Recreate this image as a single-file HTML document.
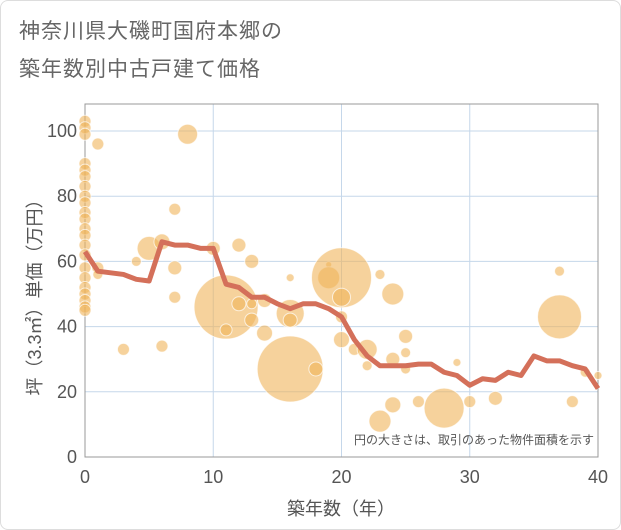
<!DOCTYPE html>
<html><head><meta charset="utf-8"><style>
body{margin:0;background:#fff;font-family:"Liberation Sans","Noto Sans CJK JP",sans-serif}
.wrap{position:relative;width:619px;height:528px;border:1px solid #ddd;border-radius:8px;overflow:hidden;background:#fff}
.t{position:absolute;left:18px;font-size:21px;color:#666;letter-spacing:1px}
</style></head><body>
<div class="wrap">
<div class="t" style="top:14px">神奈川県大磯町国府本郷の</div>
<div class="t" style="top:52px">築年数別中古戸建て価格</div>
<svg id="c" width="621" height="530" style="position:absolute;left:0;top:0"></svg>
</div>
<script>
const xTicks=[0,10,20,30,40];
const yTicks=[0,20,40,60,80,100];
const lineYears=[0,1,2,3,4,5,6,7,8,9,10,11,12,13,14,15,16,17,18,19,20,21,22,23,24,25,26,27,28,29,30,31,32,33,34,35,36,37,38,39,40];
const lineValues=[63,57,56.5,56,54.5,54,66,65,65,64,64,53,52,49,49,47,45.5,47,47,45.5,43,36,31,28,28,28,28.5,28.5,26,25,22,24,23.5,26,25,31,29.5,29.5,28,27,21];
const bubbleX=[0,0,0,0,0,0,0,0,0,0,0,0,0,0,0,0,0,0,0,0,0,0,1,1,1,3,4,5,6,7,7,7,6,8,10,12,13,11,12,13,13,14,14,11,16,16,16,16,18,19,19,20,20,20,20,21,22,22,23,24,24,24,23,25,25,25,26,28,29,30,32,37,37,38,39,40];
const bubbleY=[103,101,99,90,88,86,83,80,78,75,73,70,68,65,62,58,55,52,50,48,46,45,96,58,56,33,60,64,66,76,58,49,34,99,64,65,60,46,47,47,42,48,38,39,44,55,42,27,27,59,55,55,49,43,36,33,33,28,56,50,30,16,11,37,32,27,17,15,29,17,18,57,43,17,26,25];
const bubbleSize=[6,6,6,6,6,6,6,6,6,6,6,6,6,6,6,6,6,6,6,6,6,6,6,6,5,6,5,12,8,6,7,6,6,10,7,7,7,32,7,5,7,7,8,6,14,4,7,33,7,3,11,30,9,6,8,6,10,5,5,11,7,8,11,7,5,5,6,20,4,6,7,5,22,6,5,4];
const svg=document.getElementById('c');const NS='http://www.w3.org/2000/svg';
const L=84,R=597,T=103,B=456;
const sx=v=>L+(R-L)*v/40, sy=v=>B-(B-130)*v/100;
function mk(t,a){const e=document.createElementNS(NS,t);for(const k in a)e.setAttribute(k,a[k]);svg.appendChild(e);return e;}
mk('rect',{x:L,y:T,width:R-L,height:B-T,fill:'#fff',stroke:'#999'});
xTicks.forEach(v=>{const g=mk('line',{x1:sx(v),x2:sx(v),y1:T,y2:B,stroke:'#c5d7ea'});


const t=mk('text',{x:sx(v),y:482,'text-anchor':'middle','font-size':18,fill:'#555'});t.textContent=v;

});
yTicks.forEach(v=>{const g=mk('line',{x1:L,x2:R,y1:sy(v),y2:sy(v),stroke:'#c5d7ea'});


const t=mk('text',{x:76,y:sy(v)+6,'text-anchor':'end','font-size':18,fill:'#555'});t.textContent=v;

});
mk('rect',{x:L,y:T,width:R-L,height:B-T,fill:'none',stroke:'#999'});
bubbleX.forEach((x,i)=>{const c=mk('circle',{cx:sx(x),cy:sy(bubbleY[i]),r:bubbleSize[i],fill:'rgba(240,180,90,0.6)',stroke:'rgba(255,255,255,0.7)','stroke-width':1});

});
const p=mk('polyline',{points:lineYears.map((y,i)=>sx(y)+','+sy(lineValues[i])).join(' '),fill:'none',stroke:'#d4705a','stroke-width':5,'stroke-linejoin':'round'});


const n=mk('text',{x:593,y:443,'text-anchor':'end','font-size':12,fill:'#555'});n.textContent='円の大きさは、取引のあった物件面積を示す';


const xt=mk('text',{x:340,y:514,'text-anchor':'middle','font-size':18,fill:'#555'});xt.textContent='築年数（年）';


const yt=mk('text',{x:0,y:0,'text-anchor':'middle','font-size':18,fill:'#555',transform:'translate(40,292) rotate(-90)'});yt.textContent='坪（3.3㎡）単価（万円）';


</script>
</body></html>
